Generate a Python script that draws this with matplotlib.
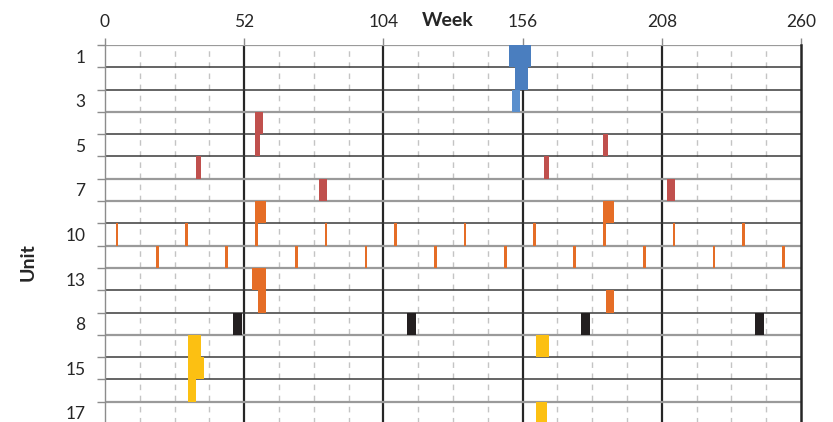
import matplotlib
matplotlib.use("Agg")
import matplotlib.pyplot as plt
from matplotlib.ticker import FixedLocator, NullFormatter

plt.rcParams['font.family'] = ['Lato', 'DejaVu Sans']

# Units, top to bottom
units = ["1", "2", "3", "4", "5", "6", "7", "9", "10", "11",
         "13", "14", "8", "12", "15", "16", "17"]

# Maintenance windows per unit: start week and duration in weeks
starts = [
    [151],
    [153],
    [152],
    [56],
    [56, 186],
    [34, 164],
    [80, 210],
    [56, 186],
    [4, 30, 56, 82, 108, 134, 160, 186, 212, 238],
    [19, 45, 71, 97, 123, 149, 175, 201, 227, 253],
    [55],
    [57, 187],
    [48, 113, 178, 243],
    [31, 161],
    [31],
    [31],
    [161],
]
durations = [
    [8],
    [5],
    [3],
    [3],
    [2, 2],
    [2, 2],
    [3, 3],
    [4, 4],
    [1] * 10,
    [1] * 10,
    [5],
    [3, 3],
    [3, 3, 3, 3],
    [5, 5],
    [6],
    [3],
    [4],
]
unit_colors = ["#4a7ebf", "#4a7ebf", "#5a8fcd",
               "#c0504d", "#c0504d", "#c0504d", "#c0504d",
               "#e56d26", "#e56d26", "#e56d26", "#e56d26", "#e56d26",
               "#231f20",
               "#fcc012", "#fcc012", "#fcc012", "#fcc012"]

week_ticks = [0, 52, 104, 156, 208, 260]
# style of each row boundary line (top to bottom)
boundary_dark = [False, True, True, False, True, True, False, False, True,
                 False, False, True, True, False, True, True, False, True]

fig = plt.figure(figsize=(8.33, 4.22), dpi=100)
ax = fig.add_axes([105 / 833, 1 - 424 / 422, 696 / 833, 379 / 422])

n = len(units)
ax.set_xlim(0, 260)
ax.set_ylim(n, 0)

# grid: dashed quarter-year lines, solid year lines
for w in range(13, 260, 13):
    if w % 52:
        ax.axvline(w, color="#c4c4c4", lw=1.0, ls=(0, (4, 4)), zorder=1)
for w in week_ticks[1:-1]:
    ax.axvline(w, color="#262626", lw=1.6, zorder=2)

for i, dark in enumerate(boundary_dark):
    if dark:
        ax.axhline(i, color="#3a3a3a", lw=1.1, zorder=2)
    else:
        ax.axhline(i, color="#9a9a9a", lw=1.6, zorder=2)

for i in range(n):
    ax.barh([i + 0.5] * len(starts[i]), durations[i], left=starts[i],
            height=1.0, color=unit_colors[i], linewidth=0, zorder=3)

for s in ["top", "bottom"]:
    ax.spines[s].set_visible(False)
ax.spines["left"].set_color("#8c8c8c")
ax.spines["left"].set_linewidth(1.0)
ax.spines["right"].set_color("#262626")
ax.spines["right"].set_linewidth(1.8)
ax.spines["left"].set_zorder(4)

ax.xaxis.tick_top()
ax.set_xticks(week_ticks)
ax.set_xticklabels([str(t) for t in week_ticks])
ax.tick_params(axis="x", which="major", length=5, width=1, color="#8c8c8c",
               pad=5.5, labelsize=12.5, labelcolor="#262626")

ax.yaxis.set_major_locator(FixedLocator([i + 0.5 for i in range(0, n, 2)]))
ax.set_yticklabels([units[i] for i in range(0, n, 2)])
ax.yaxis.set_minor_locator(FixedLocator(list(range(n + 1))))
ax.yaxis.set_minor_formatter(NullFormatter())
ax.tick_params(axis="y", which="major", length=0, pad=14, labelsize=12.5,
               labelcolor="#262626")
ax.tick_params(axis="y", which="minor", length=6, width=1, color="#8c8c8c")

fig.text(448 / 833, 1 - 21 / 422, "Week", ha="center", va="center",
         fontsize=14, fontweight="bold", color="#262626")
fig.text(28 / 833, 1 - 262 / 422, "Unit", ha="center", va="center",
         rotation=90, fontsize=14, fontweight="bold", color="#262626")

fig.savefig("out.png", dpi=100)
